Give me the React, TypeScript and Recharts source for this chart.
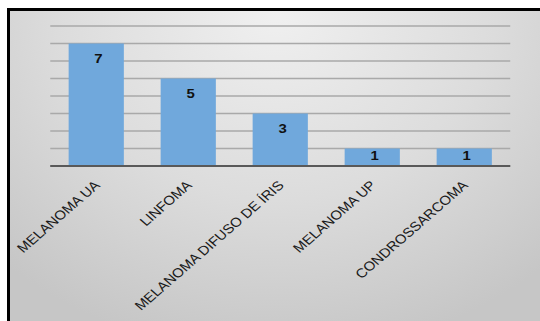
import { BarChart, Bar, XAxis, YAxis, CartesianGrid, LabelList } from "recharts";

const categories = ["MELANOMA UA", "LINFOMA", "MELANOMA DIFUSO DE ÍRIS", "MELANOMA UP", "CONDROSSARCOMA"];
const counts = [7, 5, 3, 1, 1];
const yTicks = [0, 1, 2, 3, 4, 5, 6, 7, 8];

const data = categories.map((name, i) => ({ name, value: counts[i] }));

const FONT = "'Liberation Sans', Arial, sans-serif";
const STRETCH = 1.15;

const AngledTick = (props: any) => {
  const { x, y, payload } = props;
  return (
    <g transform={`translate(${x + 4},${y + 12})`}>
      <text
        x={0}
        y={0}
        textAnchor="end"
        transform="rotate(-45)"
        fill="#1a1a1a"
        fontSize={13}
        fontFamily={FONT}
      >
        {payload.value}
      </text>
    </g>
  );
};

// value label sits ~10px below the bar top, but hugs the top on short bars
const ValueLabel = (props: any) => {
  const { x, y, width, height, value } = props;
  const gap = Math.min(10, Math.max(1.5, height - 15));
  return (
    <text
      x={x + width / 2 + 2}
      y={y + gap}
      dy="0.71em"
      textAnchor="middle"
      fill="#111"
      fontSize={13}
      fontWeight="bold"
      fontFamily={FONT}
    >
      {value}
    </text>
  );
};

export default function App() {
  return (
    <div style={{ position: "absolute", left: 0, top: 0, width: 540, height: 321, background: "#fff", overflow: "hidden" }}>
      <div
        style={{
          position: "absolute",
          left: 7,
          top: 8,
          width: 533,
          height: 313,
          borderTop: "3px solid #000",
          borderLeft: "3px solid #000",
          background: "radial-gradient(ellipse 75% 110% at 50% 0%, #f0f0f0 0%, #dcdcdc 55%, #c6c6c6 100%)",
        }}
      >
        <div style={{ position: "absolute", left: 0, top: 0, transform: `scaleX(${STRETCH})`, transformOrigin: "0 0" }}>
          <BarChart
            width={461}
            height={310}
            data={data}
            margin={{ top: 15, right: 26, bottom: 5, left: 35 }}
            barCategoryGap="20%"
          >
            <CartesianGrid vertical={false} stroke="#a9a9a9" strokeWidth={1.5} />
            <YAxis hide domain={[0, 8]} ticks={yTicks} interval={0} />
            <XAxis
              dataKey="name"
              height={150}
              interval={0}
              tickLine={false}
              axisLine={{ stroke: "#595959", strokeWidth: 2 }}
              tick={<AngledTick />}
            />
            <Bar dataKey="value" fill="#70a8dc" isAnimationActive={false}>
              <LabelList dataKey="value" content={<ValueLabel />} />
            </Bar>
          </BarChart>
        </div>
      </div>
    </div>
  );
}
